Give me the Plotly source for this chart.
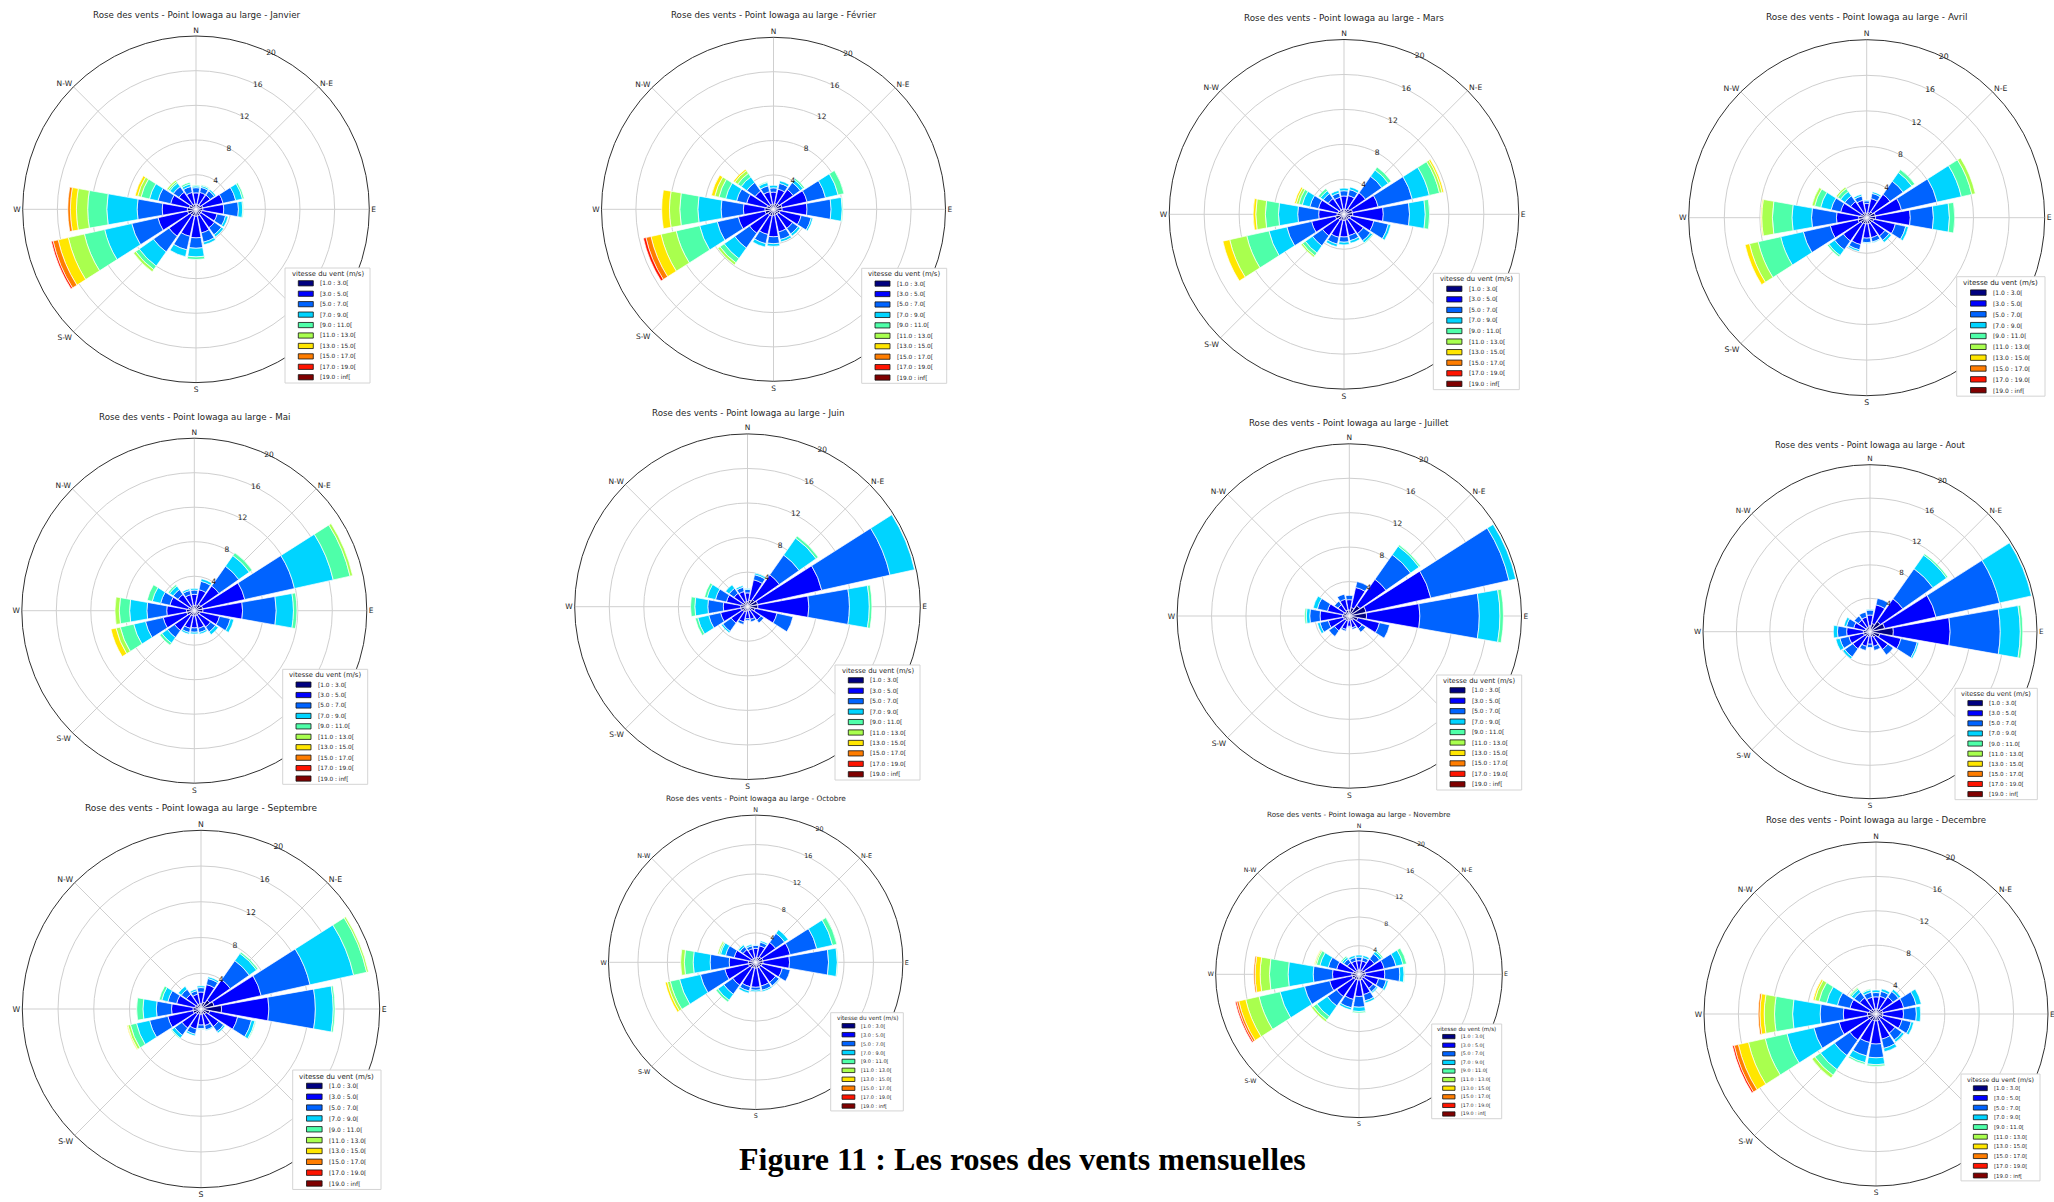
import plotly.graph_objects as go

# Canvas size (px)
W, H = 2054, 1202

# 16 compass sectors, clockwise from north (degrees)
DIRECTIONS = [0, 22.5, 45, 67.5, 90, 112.5, 135, 157.5,
              180, 202.5, 225, 247.5, 270, 292.5, 315, 337.5]
DIR_NAMES = ["N", "NNE", "NE", "ENE", "E", "ESE", "SE", "SSE",
             "S", "SSW", "SW", "WSW", "W", "WNW", "NW", "NNW"]

# Wind speed classes (m/s) and their jet colours
SPEED_BINS = ["[1.0 : 3.0[", "[3.0 : 5.0[", "[5.0 : 7.0[", "[7.0 : 9.0[",
              "[9.0 : 11.0[", "[11.0 : 13.0[", "[13.0 : 15.0[",
              "[15.0 : 17.0[", "[17.0 : 19.0[", "[19.0 : inf["]
BIN_COLORS = ["#000080", "#0000ff", "#0063ff", "#00d4ff", "#4effa9",
              "#a9ff4e", "#ffe600", "#ff7d00", "#ff1400", "#800000"]

# Compass labels (the S-E one sits under the legend box)
COMPASS_TICKS = [0, 45, 90, 135, 180, 225, 270, 315]
COMPASS_LABELS = ["N", "N-E", "E", "", "S", "S-W", "W", "N-W"]
RADIAL_TICKS = [4, 8, 12, 16, 20]

# Frequency (%) per direction (rows N..NNW) and per speed class
JANVIER = [
    [0.6, 1.3, 0.6, 0.2, 0.1], [0.6, 1.4, 0.6, 0.2, 0.1], [0.6, 1.4, 0.6, 0.2],
    [0.8, 2.4, 1.5, 0.8, 0.2], [0.8, 2.4, 1.7, 0.5, 0.1], [0.7, 1.8, 1.0, 0.3],
    [0.7, 1.9, 1.0, 0.3], [0.8, 2.0, 1.1, 0.3], [0.8, 2.5, 1.2, 1.0, 0.3],
    [0.8, 2.4, 1.6, 0.8], [0.8, 3.0, 2.2, 2.0, 0.5, 0.3],
    [1.0, 3.5, 3.1, 3.2, 2.4, 1.9, 1.2, 0.6, 0.2],
    [1.0, 2.9, 2.9, 3.5, 2.2, 1.3, 0.7, 0.3],
    [0.8, 2.2, 1.5, 1.0, 1.0, 0.4, 0.3], [0.7, 1.7, 0.8, 0.5, 0.2, 0.2],
    [0.6, 1.4, 0.7, 0.3, 0.2],
]
FEVRIER = [
    [0.6, 1.4, 0.5, 0.3], [0.7, 1.7, 0.7, 0.3], [0.8, 2.0, 1.0, 0.4, 0.2],
    [1.0, 3.0, 2.2, 1.5, 0.7], [1.0, 2.9, 2.8, 1.3, 0.1], [0.8, 2.5, 1.2, 0.2],
    [0.7, 2.0, 0.8, 0.3], [0.7, 2.0, 0.9, 0.3], [0.7, 2.5, 0.8, 0.3],
    [0.8, 2.2, 1.1, 0.4], [0.8, 2.6, 2.1, 1.5, 0.6, 0.3],
    [1.0, 3.2, 2.5, 2.1, 2.8, 1.8, 1.2, 0.6, 0.3],
    [1.0, 2.5, 2.6, 2.7, 2.1, 1.2, 0.9],
    [0.8, 2.4, 1.2, 1.3, 0.8, 0.5, 0.4], [0.6, 2.0, 1.2, 0.8, 0.5, 0.4, 0.2],
    [0.6, 1.5, 0.7, 0.4, 0.1],
]
MARS = [
    [0.6, 1.5, 0.6, 0.3], [0.6, 1.6, 0.7, 0.3], [0.8, 2.2, 2.3, 0.9, 0.4],
    [1.0, 3.0, 4.0, 2.0, 1.2, 0.3, 0.2], [1.0, 3.5, 3.0, 1.8, 0.5],
    [0.8, 2.7, 1.7, 0.3], [0.7, 2.0, 1.0, 0.3, 0.1], [0.7, 1.8, 0.6, 0.3],
    [0.7, 1.9, 0.6, 0.3], [0.7, 2.0, 0.8, 0.3], [0.8, 2.2, 1.4, 1.0, 0.4, 0.2],
    [1.0, 2.8, 2.9, 2.1, 2.6, 2.0, 0.8],
    [0.8, 2.1, 2.4, 2.2, 1.5, 1.1, 0.3],
    [0.7, 2.3, 1.0, 0.9, 0.4, 0.3, 0.2], [0.6, 1.6, 0.7, 0.4, 0.3],
    [0.6, 1.4, 0.5, 0.3],
]
AVRIL = [
    [0.5, 1.1, 0.3, 0.1], [0.6, 1.6, 0.6, 0.2], [0.8, 2.4, 1.8, 1.2, 0.4],
    [1.0, 3.0, 4.1, 2.8, 1.2, 0.4], [1.0, 3.9, 2.6, 1.8, 0.6],
    [0.8, 2.5, 1.2, 0.3], [0.7, 1.8, 0.6, 0.3], [0.7, 1.6, 0.5, 0.1],
    [0.7, 1.6, 0.5, 0.1], [0.7, 2.4, 0.6, 0.2], [0.8, 2.4, 1.2, 0.8, 0.2],
    [1.0, 3.2, 3.1, 2.6, 2.6, 1.0, 0.5],
    [0.9, 2.5, 2.8, 2.2, 2.2, 1.2, 0.1],
    [0.7, 2.3, 1.1, 1.2, 0.7, 0.3], [0.6, 1.6, 0.8, 0.6, 0.4, 0.2],
    [0.6, 1.4, 0.5, 0.2],
]
MAI = [
    [0.6, 1.3, 0.5, 0.2], [0.7, 1.8, 1.0, 0.3], [0.9, 2.6, 2.8, 1.5, 0.4],
    [1.0, 5.0, 5.9, 4.6, 2.0, 0.3], [1.0, 4.6, 3.9, 2.0, 0.4],
    [0.7, 2.3, 1.3, 0.4], [0.6, 1.7, 0.7, 0.4], [0.6, 1.5, 0.5, 0.2],
    [0.6, 1.4, 0.5, 0.2], [0.6, 1.5, 0.5, 0.2], [0.7, 2.1, 1.0, 0.8, 0.3],
    [0.9, 2.8, 2.1, 1.4, 1.6, 0.5, 0.6],
    [0.9, 2.3, 2.3, 2.0, 1.2, 0.5],
    [0.7, 2.2, 1.1, 1.0, 0.6], [0.6, 1.7, 0.7, 0.5, 0.2],
    [0.6, 1.3, 0.5, 0.2],
]
JUIN = [
    [0.6, 1.0, 0.4, 0.1], [0.8, 2.4, 0.6, 0.2], [1.0, 3.5, 2.8, 2.4, 0.3],
    [1.2, 7.6, 8.1, 2.9], [1.2, 5.9, 4.7, 2.3, 0.3],
    [0.9, 2.6, 1.9], [0.6, 1.3, 0.4], [0.5, 1.0, 0.3],
    [0.5, 0.9, 0.2], [0.6, 1.2, 0.3], [0.7, 1.6, 1.2, 0.2],
    [0.8, 2.4, 1.4, 1.3, 0.3],
    [0.8, 2.0, 1.8, 1.5, 0.5],
    [0.7, 1.8, 1.3, 1.0, 0.3], [0.6, 1.3, 0.7, 0.5],
    [0.6, 1.2, 0.5, 0.2],
]
JUILLET = [
    [0.7, 1.2, 0.5], [1.0, 2.4, 0.7], [1.5, 3.7, 3.5, 1.2, 0.2],
    [2.0, 7.7, 9.3, 0.8], [2.0, 6.2, 6.9, 2.4, 0.4],
    [1.0, 2.6, 1.2], [0.6, 1.2, 0.5], [0.5, 0.9, 0.2],
    [0.5, 0.7, 0.1], [0.6, 1.0, 0.2], [0.6, 1.5, 0.8],
    [0.7, 1.8, 1.0, 0.3],
    [0.8, 2.6, 1.2, 0.4, 0.2],
    [0.7, 1.9, 1.2, 0.5], [0.6, 1.0, 0.5],
    [0.7, 1.3, 0.6],
]
AOUT = [
    [0.7, 1.3, 0.6, 0.1], [1.0, 2.3, 0.8], [1.5, 3.3, 4.4, 2.0, 0.2],
    [1.8, 6.3, 7.8, 3.9], [2.8, 6.8, 6.0, 2.4, 0.3],
    [1.2, 2.6, 2.0, 0.2], [0.8, 1.8, 0.8], [0.6, 1.2, 0.5],
    [0.5, 1.0, 0.4], [0.6, 1.2, 0.5], [0.7, 1.8, 1.2, 0.3],
    [0.8, 1.8, 1.1, 0.5],
    [0.8, 2.0, 1.1, 0.5],
    [0.6, 1.4, 0.9, 0.3], [0.6, 1.1, 0.6],
    [0.6, 1.2, 0.6],
]
SEPTEMBRE = [
    [0.6, 1.3, 0.5, 0.2], [0.8, 2.0, 0.7, 0.2], [1.2, 2.8, 2.6, 1.0, 0.2],
    [1.5, 5.4, 5.6, 5.0, 1.5, 0.2], [2.3, 5.3, 5.2, 2.0, 0.2],
    [1.0, 3.2, 1.6, 0.4, 0.1], [0.7, 1.7, 0.7, 0.2], [0.6, 1.3, 0.5, 0.1],
    [0.6, 1.2, 0.4, 0.1], [0.6, 1.7, 0.6, 0.2], [0.7, 1.9, 1.0, 0.4, 0.1],
    [0.9, 2.9, 2.1, 1.5, 0.7, 0.3, 0.1],
    [0.9, 2.4, 1.7, 1.5, 0.7],
    [0.7, 2.1, 1.0, 0.7, 0.3], [0.6, 1.4, 0.7, 0.4],
    [0.6, 1.1, 0.4, 0.2],
]
OCTOBRE = [
    [0.6, 1.3, 0.4, 0.1], [0.7, 1.6, 0.5, 0.2], [0.9, 2.4, 1.5, 0.6],
    [1.0, 3.8, 3.7, 2.2, 0.6], [1.0, 3.6, 5.3, 1.2, 0.1],
    [0.9, 2.8, 1.1], [0.8, 2.5, 0.6, 0.1], [0.8, 2.5, 0.6, 0.2],
    [0.8, 2.6, 0.4, 0.2], [0.8, 2.6, 0.6, 0.3], [0.9, 2.9, 1.5, 1.0, 0.3],
    [1.0, 3.3, 3.4, 2.9, 1.3, 0.4, 0.3],
    [1.0, 2.6, 2.6, 2.3, 1.2, 0.5],
    [0.7, 2.3, 1.2, 0.7, 0.2, 0.2], [0.6, 1.5, 0.5, 0.3, 0.1],
    [0.6, 1.3, 0.4, 0.2],
]
NOVEMBRE = [
    [0.6, 1.3, 0.5, 0.3], [0.6, 1.3, 0.5, 0.3], [0.7, 1.9, 0.9, 0.4, 0.2],
    [0.9, 2.7, 1.7, 1.0, 0.5], [0.9, 2.7, 2.1, 0.6, 0.1],
    [0.8, 2.0, 1.1, 0.3], [0.7, 1.7, 0.6, 0.2], [0.8, 2.1, 0.9, 0.3],
    [0.8, 2.3, 1.5, 0.6, 0.2], [0.8, 2.8, 1.2, 0.3],
    [0.9, 2.9, 1.6, 1.8, 0.6, 0.3],
    [1.0, 3.2, 3.6, 3.5, 3.0, 1.9, 1.0, 0.3, 0.2],
    [1.0, 2.7, 2.7, 3.5, 2.6, 1.3, 0.7, 0.2],
    [0.8, 2.4, 1.2, 1.2, 0.5, 0.2, 0.1], [0.6, 1.4, 0.6, 0.3, 0.2],
    [0.6, 1.3, 0.5, 0.3],
]
DECEMBRE = [
    [0.6, 1.4, 0.5, 0.3], [0.6, 1.5, 0.6, 0.3], [0.7, 1.7, 0.8, 0.3],
    [0.8, 2.5, 1.5, 0.6], [0.8, 2.4, 1.5, 0.5],
    [0.8, 2.3, 1.1, 0.3], [0.7, 2.0, 1.0, 0.3], [0.8, 2.2, 1.1, 0.4],
    [0.8, 2.7, 1.6, 0.8, 0.2], [0.8, 2.6, 1.6, 0.8, 0.2],
    [0.9, 2.8, 2.2, 2.0, 0.8, 0.4],
    [1.0, 3.4, 3.0, 3.2, 2.6, 2.0, 1.2, 0.5, 0.2],
    [1.0, 2.8, 2.7, 3.2, 2.1, 1.2, 0.5, 0.2],
    [0.8, 2.3, 1.5, 1.3, 0.9, 0.5, 0.2], [0.7, 1.6, 0.8, 0.4, 0.2, 0.1],
    [0.6, 1.4, 0.6, 0.3, 0.1],
]

MONTHS = [
    ("Janvier", JANVIER), ("Février", FEVRIER), ("Mars", MARS), ("Avril", AVRIL),
    ("Mai", MAI), ("Juin", JUIN), ("Juillet", JUILLET), ("Aout", AOUT),
    ("Septembre", SEPTEMBRE), ("Octobre", OCTOBRE), ("Novembre", NOVEMBRE),
    ("Decembre", DECEMBRE),
]

# Panel geometry in pixels: centre x, centre y, radius, title y, legend box
PANELS = [
    (196.0, 209.3, 173.3, 15.0, (285.0, 268.0, 370.0)),
    (773.5, 209.3, 172.0, 15.0, (861.7, 268.3, 946.7)),
    (1344.0, 214.3, 174.8, 18.3, (1433.3, 273.3, 1519.3)),
    (1866.7, 217.7, 178.0, 17.3, (1956.7, 276.7, 2045.0)),
    (194.3, 610.7, 172.5, 417.3, (282.7, 669.3, 367.7)),
    (747.5, 606.7, 172.8, 413.3, (835.0, 665.0, 920.0)),
    (1349.3, 616.0, 172.2, 423.3, (1436.7, 675.0, 1521.7)),
    (1870.0, 631.7, 167.0, 445.0, (1955.0, 688.3, 2037.3)),
    (201.0, 1009.0, 178.7, 808.3, (292.7, 1070.0, 381.0)),
    (755.7, 962.3, 147.2, 798.3, (830.7, 1012.7, 903.3)),
    (1359.0, 974.3, 143.3, 814.0, (1431.7, 1024.0, 1501.7)),
    (1876.0, 1014.0, 172.0, 820.0, (1961.0, 1074.0, 2040.0)),
]

FONT = "DejaVu Sans"
TEXT = "#262626"
RADIAL_ANGLE = 67.5  # radial labels sit on the NNE spoke


def px(x):
    return x / W


def py(y):
    return 1 - y / H


fig = go.Figure()
shapes = []
annotations = []
layout_polars = {}

for i, (month, table) in enumerate(MONTHS):
    cx, cy, R, ty, (lx0, ly0, lx1) = PANELS[i]
    k = R / 173.0
    pid = "polar" if i == 0 else f"polar{i + 1}"

    for b, (label, color) in enumerate(zip(SPEED_BINS, BIN_COLORS)):
        r = [row[b] if b < len(row) else None for row in table]
        if all(v is None for v in r):
            continue
        fig.add_trace(go.Barpolar(
            r=r, theta=DIRECTIONS, width=20, name=label,
            customdata=DIR_NAMES,
            marker=dict(color=color, line=dict(color="white", width=0.7)),
            subplot=pid, showlegend=False,
        ))

    layout_polars[pid] = dict(
        domain=dict(x=[px(cx - R), px(cx + R)], y=[py(cy + R), py(cy - R)]),
        bgcolor="white",
        barmode="stack",
        radialaxis=dict(
            range=[0, 20], tickmode="array", tickvals=RADIAL_TICKS,
            ticktext=[str(v) for v in RADIAL_TICKS], angle=RADIAL_ANGLE,
            tickangle=RADIAL_ANGLE,
            showline=False, ticks="", gridcolor="#cfcfcf", gridwidth=1,
            tickfont=dict(family=FONT, size=7.5 * k, color=TEXT),
        ),
        angularaxis=dict(
            rotation=90, direction="clockwise", tickmode="array",
            tickvals=COMPASS_TICKS, ticktext=COMPASS_LABELS,
            showline=True, linecolor="#303030", linewidth=1,
            gridcolor="#cfcfcf", gridwidth=1, ticks="",
            tickfont=dict(family=FONT, size=7.5 * k, color=TEXT),
        ),
    )

    annotations.append(dict(
        x=px(cx), y=py(ty), xref="paper", yref="paper",
        text=f"Rose des vents - Point Iowaga au large - {month}",
        showarrow=False, xanchor="center", yanchor="middle",
        font=dict(family=FONT, size=8.7 * k, color=TEXT),
    ))

    # Speed-class legend box
    s = (lx1 - lx0) / 85.0
    shapes.append(dict(
        type="rect", xref="paper", yref="paper", layer="above",
        x0=px(lx0), x1=px(lx1), y0=py(ly0 + 115 * s), y1=py(ly0),
        fillcolor="white", line=dict(color="#d4d4d4", width=1),
    ))
    annotations.append(dict(
        x=px(lx0 + 42.5 * s), y=py(ly0 + 6.0 * s), xref="paper", yref="paper",
        text="vitesse du vent (m/s)", showarrow=False,
        xanchor="center", yanchor="middle", borderpad=0,
        font=dict(family=FONT, size=6.8 * s, color=TEXT),
    ))
    for j, (label, color) in enumerate(zip(SPEED_BINS, BIN_COLORS)):
        yc = ly0 + (15.3 + 10.44 * j) * s
        shapes.append(dict(
            type="rect", xref="paper", yref="paper", layer="above",
            x0=px(lx0 + 13.3 * s), x1=px(lx0 + 28.3 * s),
            y0=py(yc + 2.6 * s), y1=py(yc - 2.6 * s),
            fillcolor=color, line=dict(color="#111111", width=0.8),
        ))
        annotations.append(dict(
            x=px(lx0 + 34.0 * s), y=py(yc), xref="paper", yref="paper",
            text=label, showarrow=False, xanchor="left", yanchor="middle",
            borderpad=0,
            font=dict(family=FONT, size=5.8 * s, color=TEXT),
        ))

# Figure caption
annotations.append(dict(
    x=px(1022), y=py(1159), xref="paper", yref="paper",
    text="<b>Figure 11 : Les roses des vents mensuelles</b>",
    showarrow=False, xanchor="center", yanchor="middle",
    font=dict(family="Liberation Serif", size=32, color="black"),
))

fig.update_layout(
    width=W, height=H,
    margin=dict(l=0, r=0, t=0, b=0),
    paper_bgcolor="white", plot_bgcolor="white",
    showlegend=False,
    shapes=shapes, annotations=annotations,
    **layout_polars,
)

fig.write_html("out.html")
